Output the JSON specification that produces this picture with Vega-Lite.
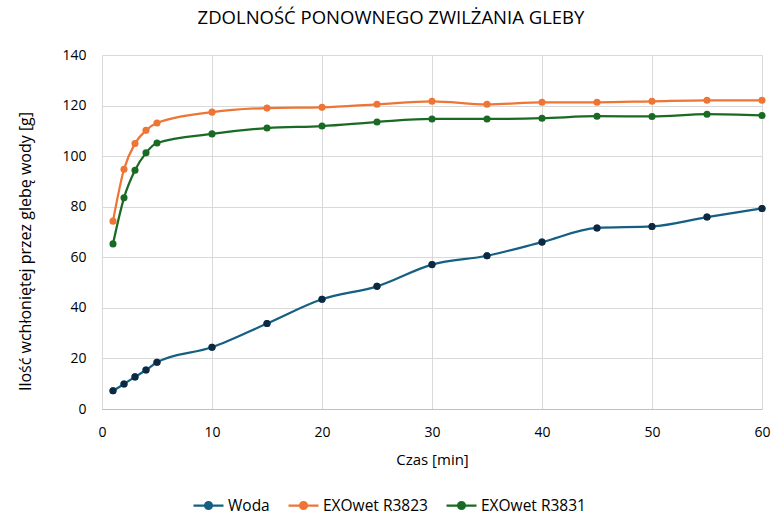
{
  "$schema": "https://vega.github.io/schema/vega-lite/v6.json",
  "description": "Zdolnosc ponownego zwilzania gleby",
  "autosize": "none",
  "width": 660,
  "height": 354,
  "padding": {"left": 102, "top": 55, "right": 20, "bottom": 115},
  "background": "white",
  "config": {
    "font": "Open Sans",
    "view": {"stroke": null},
    "legend": {"labelFontSize": 15.5, "labelColor": "#000000"}
  },
  "title": {
    "text": "ZDOLNOŚĆ PONOWNEGO ZWILŻANIA GLEBY",
    "fontSize": 18.5,
    "fontWeight": "normal",
    "color": "#000000",
    "anchor": "middle",
    "dx": -41,
    "offset": 21
  },
  "data": {
    "values": [
      {"czas": 1, "seria": "Woda", "wartosc": 7.2},
      {"czas": 2, "seria": "Woda", "wartosc": 9.9},
      {"czas": 3, "seria": "Woda", "wartosc": 12.7},
      {"czas": 4, "seria": "Woda", "wartosc": 15.4},
      {"czas": 5, "seria": "Woda", "wartosc": 18.5},
      {"czas": 10, "seria": "Woda", "wartosc": 24.4},
      {"czas": 15, "seria": "Woda", "wartosc": 33.8},
      {"czas": 20, "seria": "Woda", "wartosc": 43.4},
      {"czas": 25, "seria": "Woda", "wartosc": 48.5},
      {"czas": 30, "seria": "Woda", "wartosc": 57.1},
      {"czas": 35, "seria": "Woda", "wartosc": 60.6},
      {"czas": 40, "seria": "Woda", "wartosc": 66.0},
      {"czas": 45, "seria": "Woda", "wartosc": 71.6},
      {"czas": 50, "seria": "Woda", "wartosc": 72.2},
      {"czas": 55, "seria": "Woda", "wartosc": 75.9},
      {"czas": 60, "seria": "Woda", "wartosc": 79.3},
      {"czas": 1, "seria": "EXOwet R3823", "wartosc": 74.3},
      {"czas": 2, "seria": "EXOwet R3823", "wartosc": 94.8},
      {"czas": 3, "seria": "EXOwet R3823", "wartosc": 105.0},
      {"czas": 4, "seria": "EXOwet R3823", "wartosc": 110.2},
      {"czas": 5, "seria": "EXOwet R3823", "wartosc": 113.1},
      {"czas": 10, "seria": "EXOwet R3823", "wartosc": 117.4},
      {"czas": 15, "seria": "EXOwet R3823", "wartosc": 119.0},
      {"czas": 20, "seria": "EXOwet R3823", "wartosc": 119.3},
      {"czas": 25, "seria": "EXOwet R3823", "wartosc": 120.5},
      {"czas": 30, "seria": "EXOwet R3823", "wartosc": 121.7},
      {"czas": 35, "seria": "EXOwet R3823", "wartosc": 120.5},
      {"czas": 40, "seria": "EXOwet R3823", "wartosc": 121.3},
      {"czas": 45, "seria": "EXOwet R3823", "wartosc": 121.3},
      {"czas": 50, "seria": "EXOwet R3823", "wartosc": 121.7},
      {"czas": 55, "seria": "EXOwet R3823", "wartosc": 122.1},
      {"czas": 60, "seria": "EXOwet R3823", "wartosc": 122.1},
      {"czas": 1, "seria": "EXOwet R3831", "wartosc": 65.3},
      {"czas": 2, "seria": "EXOwet R3831", "wartosc": 83.5},
      {"czas": 3, "seria": "EXOwet R3831", "wartosc": 94.4},
      {"czas": 4, "seria": "EXOwet R3831", "wartosc": 101.3},
      {"czas": 5, "seria": "EXOwet R3831", "wartosc": 105.2},
      {"czas": 10, "seria": "EXOwet R3831", "wartosc": 108.8},
      {"czas": 15, "seria": "EXOwet R3831", "wartosc": 111.1},
      {"czas": 20, "seria": "EXOwet R3831", "wartosc": 111.9},
      {"czas": 25, "seria": "EXOwet R3831", "wartosc": 113.5},
      {"czas": 30, "seria": "EXOwet R3831", "wartosc": 114.7},
      {"czas": 35, "seria": "EXOwet R3831", "wartosc": 114.7},
      {"czas": 40, "seria": "EXOwet R3831", "wartosc": 115.0},
      {"czas": 45, "seria": "EXOwet R3831", "wartosc": 115.8},
      {"czas": 50, "seria": "EXOwet R3831", "wartosc": 115.7},
      {"czas": 55, "seria": "EXOwet R3831", "wartosc": 116.6},
      {"czas": 60, "seria": "EXOwet R3831", "wartosc": 116.1}
    ]
  },
  "encoding": {
    "x": {
      "field": "czas",
      "type": "quantitative",
      "title": "Czas [min]",
      "scale": {"domain": [0, 60], "nice": false},
      "axis": {
        "values": [0, 10, 20, 30, 40, 50, 60],
        "labelFlush": false,
        "labelFontSize": 14,
        "labelColor": "#000000",
        "labelPadding": 16,
        "titleFontSize": 15,
        "titleFontWeight": "normal",
        "titleColor": "#000000",
        "titlePadding": 13,
        "ticks": false,
        "domainColor": "#BFBFBF",
        "gridColor": "#D9D9D9"
      }
    },
    "y": {
      "field": "wartosc",
      "type": "quantitative",
      "title": "Ilość wchłoniętej przez glebę wody [g]",
      "scale": {"domain": [0, 140], "nice": false},
      "axis": {
        "values": [0, 20, 40, 60, 80, 100, 120, 140],
        "labelFontSize": 14,
        "labelColor": "#000000",
        "labelPadding": 16,
        "titleFontSize": 16,
        "titleFontWeight": "normal",
        "titleColor": "#000000",
        "titlePadding": 28,
        "titleY": 196,
        "ticks": false,
        "domain": false,
        "gridColor": "#D9D9D9"
      }
    },
    "color": {
      "field": "seria",
      "type": "nominal",
      "sort": ["Woda", "EXOwet R3823", "EXOwet R3831"],
      "scale": {
        "domain": ["Woda", "EXOwet R3823", "EXOwet R3831"],
        "range": ["#156082", "#EE7534", "#196B24"]
      },
      "legend": {
        "title": null,
        "orient": "none",
        "direction": "horizontal",
        "legendX": 90,
        "legendY": 434,
        "labelFontSize": 15.5,
        "labelColor": "#000000",
        "labelOffset": 3,
        "columnPadding": 14,
        "symbolSize": 900,
        "symbolStrokeWidth": 2.25,
        "symbolOpacity": 1,
        "symbolType": "M-1,0H1M-0.23,0A0.23,0.23,0,1,1,0.23,0A0.23,0.23,0,1,1,-0.23,0Z"
      }
    }
  },
  "layer": [
    {
      "mark": {"type": "line", "interpolate": "monotone", "strokeWidth": 2.25}
    },
    {
      "mark": {"type": "point", "filled": true, "size": 50, "opacity": 1}
    },
    {
      "transform": [{"filter": "datum.seria === 'Woda'"}],
      "mark": {"type": "point", "filled": true, "size": 50, "opacity": 1, "color": "#0E2841"},
      "encoding": {"color": {"value": "#0E2841"}}
    }
  ]
}
